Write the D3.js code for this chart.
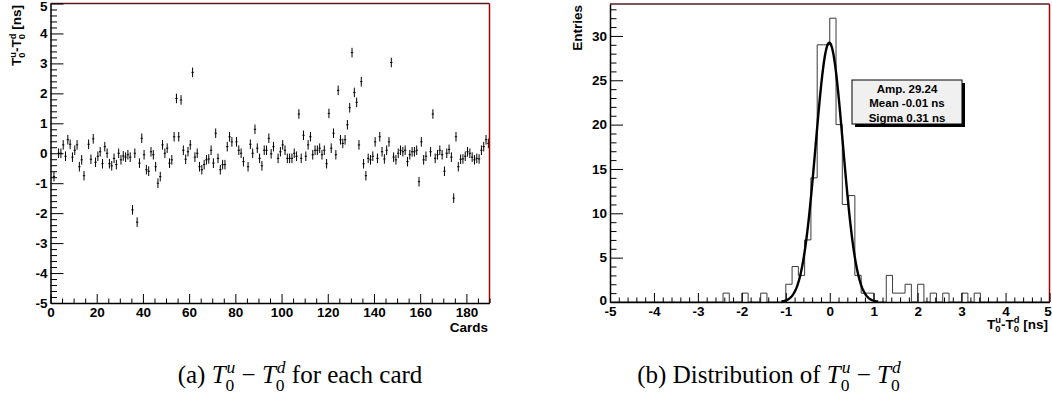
<!DOCTYPE html>
<html>
<head>
<meta charset="utf-8">
<script src="https://cdn.jsdelivr.net/npm/d3@7/dist/d3.min.js"></script>
<style>
  body { margin: 0; background: #fff; }
  svg { display: block; }
  text { white-space: pre; }
</style>
</head>
<body>
<svg id="chart" width="1052" height="394"></svg>
<script>
// (a) T0u - T0d for each card, index = card number (null = no point)
const cardValues = [
  null,
  -0.78, null, 0.0, 0.0, 0.28, -0.1, 0.45, 0.3, -0.13, 0.1,
  0.28, -0.45, -0.22, -0.75, null, 0.3, -0.2, 0.48, -0.3, -0.1,
  0.05, -0.35, 0.22, 0.0, -0.35, -0.42, -0.17, -0.38, 0.0, -0.22,
  -0.09, -0.13, -0.05, -0.13, -1.89, 0.0, -2.3, -0.33, 0.5, -0.05,
  -0.55, -0.6, 0.05, -0.05, -0.45, -1.0, -0.78, 0.28, 0.0, 0.17,
  -0.33, -0.22, 0.55, 1.83, 0.55, 1.78, 0.1, -0.2, 0.05, 0.28,
  2.7, -0.13, 0.0, -0.45, -0.55, -0.38, -0.22, -0.19, 0.1, -0.33,
  0.67, -0.17, -0.55, -0.38, -0.38, 0.22, 0.55, 0.38, null, 0.38,
  0.1, 0.0, -0.28, null, -0.45, 0.3, 0.0, 0.8, 0.17, -0.17,
  -0.42, 0.1, 0.1, 0.5, -0.02, 0.22, null, -0.17, 0.05, 0.28,
  0.1, -0.17, -0.17, -0.17, 0.0, -0.1, 1.31, -0.17, 0.6, -0.1,
  0.28, 0.55, -0.05, 0.1, 0.1, 0.17, -0.05, 0.1, -0.35, 1.33,
  0.17, 0.67, -0.05, 2.1, 0.45, 0.33, 0.45, 0.95, 1.52, 3.36,
  2.03, 1.7, 0.28, 2.39, -0.35, -0.75, -0.17, -0.22, -0.1, 0.38,
  -0.17, 0.55, 0.05, -0.19, 0.1, 0.38, 3.03, -0.13, -0.22, 0.0,
  0.1, 0.05, 0.1, -0.28, -0.05, 0.05, 0.05, 0.1, -0.95, 0.38,
  -0.22, -0.1, null, 0.05, 1.31, -0.17, -0.05, 0.1, -0.05, -0.6,
  0.0, 0.13, -0.13, -1.5, 0.55, -0.45, -0.2, -0.19, -0.1, 0.05,
  0.0, -0.13, -0.22, -0.17, -0.19, 0.1, 0.22, 0.45, 0.33
];
const cardErr = 0.16;

// (b) distribution, 70 bins from -5 to 5 ns
const binRange = [-5, 5];
const binCounts = [
  0, 0, 0, 0, 0, 0, 0, 0, 0, 0,
  0, 0, 0, 0, 0, 0, 0, 0, 1, 0,
  0, 1, 0, 0, 1, 0, 0, 0, 2, 4,
  3, 7, 14, 29, 29, 32, 20, 11, 12, 3,
  1, 1, 0, 0, 3, 1, 1, 2, 0, 2,
  0, 1, 0, 1, 0, 0, 1, 0, 1, 0,
  0, 0, 0, 0, 0, 0, 0, 0, 0, 0
];
const fitAmp = 29.24, fitMean = -0.01, fitSigma = 0.31;
const fitRange = [-1.1, 1.1];
const statsLines = ["Amp. 29.24", "Mean -0.01 ns", "Sigma 0.31 ns"];

// tick labels
const cardTicks = [0, 20, 40, 60, 80, 100, 120, 140, 160, 180];
const diffTicks = [-5, -4, -3, -2, -1, 0, 1, 2, 3, 4, 5];
const entryTicks = [0, 5, 10, 15, 20, 25, 30];

const sans = "'Liberation Sans', Arial, Helvetica, sans-serif";
const serif = "'Liberation Serif', 'DejaVu Serif', serif";

const svg = d3.select("#chart");

// text with stacked sub/superscripts, returns total width
function mathText(g, parts, o) {
  const inner = g.append("g");
  const ss = o.size * 0.7;
  let cx = 0;
  function put(str, x, y, size, italic) {
    const t = inner.append("text")
      .attr("x", x).attr("y", y)
      .attr("font-family", o.family)
      .attr("font-size", size)
      .attr("font-weight", o.weight || "normal")
      .attr("font-style", italic ? "italic" : "normal")
      .attr("fill", "#000")
      .text(str);
    return t.node().getComputedTextLength();
  }
  parts.forEach(p => {
    if (typeof p === "string") {
      cx += put(p, cx, 0, o.size, false);
      return;
    }
    cx += put(p.b, cx, 0, o.size, p.it);
    const w1 = put(p.sup, cx + (p.it ? 1 : 0), -o.size * o.up, ss, p.it);
    const w2 = put(p.sub, cx, o.size * o.down, ss, false);
    cx += Math.max(w1 + (p.it ? 1 : 0), w2);
  });
  const shift = o.anchor === "middle" ? -cx / 2 : (o.anchor === "end" ? -cx : 0);
  inner.attr("transform", "translate(" + shift + ",0)");
  return cx;
}

function drawAxes(x, y, o) {
  const g = svg.append("g");
  const yb = y.range()[0], xl = x.range()[0];

  // frame top/right
  g.append("line")
    .attr("x1", xl).attr("x2", x.range()[1])
    .attr("y1", y.range()[1]).attr("y2", y.range()[1])
    .attr("stroke", "#5a1e1e").attr("stroke-width", 1.5);
  g.append("line")
    .attr("x1", x.range()[1]).attr("x2", x.range()[1])
    .attr("y1", y.range()[1]).attr("y2", yb)
    .attr("stroke", "#a80000").attr("stroke-width", 1.5);

  // minor ticks
  const mx = g.append("g").attr("transform", "translate(0," + yb + ")")
    .call(d3.axisBottom(x).tickValues(o.xMinor).tickSize(-4.5).tickSizeOuter(0).tickFormat(""));
  mx.select(".domain").remove();
  const my = g.append("g").attr("transform", "translate(" + xl + ",0)")
    .call(d3.axisLeft(y).tickValues(o.yMinor).tickSize(-6.5).tickSizeOuter(0).tickFormat(""));
  my.select(".domain").remove();

  // major ticks + labels (plain hyphen for negatives, like the original)
  const ax = g.append("g").attr("transform", "translate(0," + yb + ")")
    .call(d3.axisBottom(x).tickValues(o.xMajor).tickSize(-9).tickSizeOuter(0).tickPadding(4)
      .tickFormat(d => String(d)));
  const ay = g.append("g").attr("transform", "translate(" + xl + ",0)")
    .call(d3.axisLeft(y).tickValues(o.yMajor).tickSize(-13).tickSizeOuter(0).tickPadding(3)
      .tickFormat(d => String(d)));

  [ax, ay].forEach(a => {
    a.attr("font-family", sans).attr("font-size", 13.5).attr("font-weight", "bold");
    a.select(".domain").attr("stroke", "#000").attr("stroke-width", 1.5);
  });
  g.selectAll(".tick line").attr("stroke", "#000").attr("stroke-width", 1);
  g.selectAll(".tick text").attr("fill", "#000");
  return { ax: ax, ay: ay };
}

const tTitle = [{ b: "T", sup: "u", sub: "0" }, "-", { b: "T", sup: "d", sub: "0" }, " [ns]"];
const tOpts = { family: sans, size: 13.5, weight: "bold", up: 0.38, down: 0.28 };

// ---------- (a) left pad ----------
const xL = d3.scaleLinear().domain([0, 190]).range([50.5, 489.5]);
const yL = d3.scaleLinear().domain([-5, 5]).range([303, 3.5]);

const pts = cardValues
  .map((v, i) => ({ card: i + 0.5, v: v }))
  .filter(d => d.v !== null);

const gPts = svg.append("g").attr("stroke", "#000").attr("stroke-width", 1);
gPts.selectAll("line.ey").data(pts).enter().append("line")
  .attr("class", "ey")
  .attr("x1", d => xL(d.card)).attr("x2", d => xL(d.card))
  .attr("y1", d => yL(d.v - cardErr)).attr("y2", d => yL(d.v + cardErr));
gPts.selectAll("line.ex").data(pts).enter().append("line")
  .attr("class", "ex")
  .attr("x1", d => xL(d.card - 0.5)).attr("x2", d => xL(d.card + 0.5))
  .attr("y1", d => yL(d.v)).attr("y2", d => yL(d.v));

const axesL = drawAxes(xL, yL, {
  xMajor: cardTicks,
  xMinor: d3.range(0, 191, 5).filter(v => v % 20 !== 0),
  yMajor: diffTicks,
  yMinor: d3.range(-50, 51, 2).filter(v => v % 10 !== 0).map(v => v / 10)
});
// top label sits just inside the picture
axesL.ay.selectAll(".tick text").filter(d => d === 5).attr("dy", "0.55em");

const yTitleL = svg.append("g").attr("transform", "translate(21,5) rotate(-90)");
mathText(yTitleL, tTitle, Object.assign({ anchor: "end" }, tOpts));

svg.append("text")
  .attr("x", 488).attr("y", 331.5)
  .attr("text-anchor", "end")
  .attr("font-family", sans).attr("font-size", 13.5).attr("font-weight", "bold")
  .text("Cards");

// ---------- (b) right pad ----------
const xR = d3.scaleLinear().domain([-5, 5]).range([610, 1049.5]);
const yR = d3.scaleLinear().domain([0, 33.6]).range([302, 4]);

const bw = (binRange[1] - binRange[0]) / binCounts.length;
const steps = [[binRange[0], 0]];
binCounts.forEach((c, i) => {
  steps.push([binRange[0] + i * bw, c]);
  steps.push([binRange[0] + (i + 1) * bw, c]);
});
steps.push([binRange[1], 0]);

svg.append("path")
  .datum(steps)
  .attr("fill", "none")
  .attr("stroke", "#3a3a3a")
  .attr("stroke-width", 1)
  .attr("d", d3.line().x(d => xR(d[0])).y(d => yR(d[1])));

const fitPts = d3.range(fitRange[0], fitRange[1] + 1e-9, 0.01)
  .map(x => [x, fitAmp * Math.exp(-0.5 * Math.pow((x - fitMean) / fitSigma, 2))]);
svg.append("path")
  .datum(fitPts)
  .attr("fill", "none")
  .attr("stroke", "#000")
  .attr("stroke-width", 2.4)
  .attr("d", d3.line().x(d => xR(d[0])).y(d => yR(d[1])));

const axesR = drawAxes(xR, yR, {
  xMajor: diffTicks,
  xMinor: d3.range(-50, 51, 2).filter(v => v % 10 !== 0).map(v => v / 10),
  yMajor: entryTicks,
  yMinor: d3.range(0, 34, 1).filter(v => v % 5 !== 0)
});
axesR.ax.selectAll(".tick text").filter(d => d === 5).attr("dx", -2);
axesR.ay.selectAll(".tick text").filter(d => d === 0).attr("dy", "0.2em");

svg.append("text")
  .attr("transform", "translate(582,5) rotate(-90)")
  .attr("text-anchor", "end")
  .attr("font-family", sans).attr("font-size", 13.5).attr("font-weight", "bold")
  .text("Entries");

const xTitleR = svg.append("g").attr("transform", "translate(1048,328.5)");
mathText(xTitleR, tTitle, Object.assign({ anchor: "end" }, tOpts));

// stats box
const box = { x: 852, y: 80, w: 110, h: 44 };
svg.append("rect")
  .attr("x", box.x + 3).attr("y", box.y + 3)
  .attr("width", box.w).attr("height", box.h)
  .attr("fill", "#000");
svg.append("rect")
  .attr("x", box.x).attr("y", box.y)
  .attr("width", box.w).attr("height", box.h)
  .attr("fill", "#f0f0f0").attr("stroke", "#000").attr("stroke-width", 1);
svg.selectAll("text.stat").data(statsLines).enter().append("text")
  .attr("class", "stat")
  .attr("x", box.x + box.w / 2)
  .attr("y", (d, i) => box.y + 12.5 + i * 14.5)
  .attr("text-anchor", "middle")
  .attr("font-family", sans).attr("font-size", 11.5).attr("font-weight", "bold")
  .text(d => d);

// ---------- captions ----------
const cOpts = { family: serif, size: 25, up: 0.42, down: 0.3, anchor: "middle" };
const capA = svg.append("g").attr("transform", "translate(300,383)");
mathText(capA, ["(a) ", { b: "T", it: true, sup: "u", sub: "0" }, " \u2212 ",
  { b: "T", it: true, sup: "d", sub: "0" }, " for each card"], cOpts);
const capB = svg.append("g").attr("transform", "translate(769,383)");
mathText(capB, ["(b) Distribution of ", { b: "T", it: true, sup: "u", sub: "0" }, " \u2212 ",
  { b: "T", it: true, sup: "d", sub: "0" }], cOpts);
</script>
</body>
</html>
